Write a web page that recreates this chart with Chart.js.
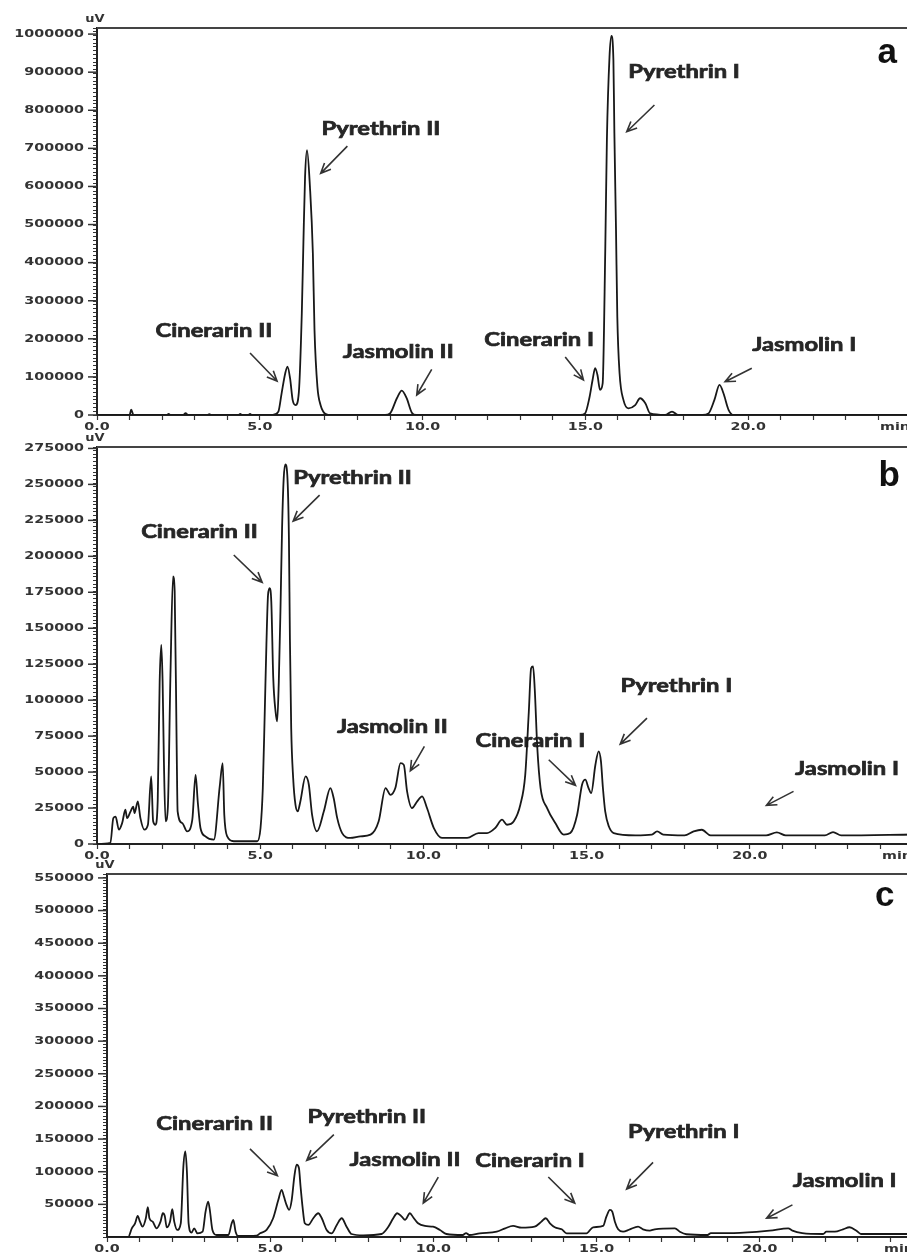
<!DOCTYPE html>
<html>
<head>
<meta charset="utf-8">
<script src="https://cdn.jsdelivr.net/npm/chart.js@4.4.1/dist/chart.umd.min.js"></script>
<style>
  html, body { margin: 0; padding: 0; background: #fff; overflow: hidden; width: 907px; height: 1253px; }
  canvas { position: absolute; left: 0; }
</style>
</head>
<body>
<canvas id="chartA" width="940" height="440" style="top:0px"></canvas>
<canvas id="chartB" width="940" height="440" style="top:430px"></canvas>
<canvas id="chartC" width="940" height="393" style="top:860px"></canvas>
<script>
// retention time (min) and detector signal (uV)

// a
const timeA = [
  0, 1.0, 1.05, 1.12, 2.15, 2.2, 2.25, 2.65, 2.72, 2.8,
  3.4, 3.45, 3.5, 4.35, 4.4, 4.45, 4.65, 4.7, 4.75, 5.4,
  5.57, 5.67, 5.78, 5.85, 5.93, 6.01, 6.1, 6.2, 6.29, 6.34,
  6.39, 6.45, 6.54, 6.63, 6.68, 6.77, 6.87, 6.95, 7.1, 8.85,
  9.0, 9.21, 9.36, 9.51, 9.67, 9.8, 14.85, 14.99, 15.12, 15.22,
  15.3, 15.37, 15.45, 15.53, 15.61, 15.66, 15.74, 15.8, 15.86, 15.89,
  15.94, 15.98, 16.05, 16.17, 16.32, 16.53, 16.68, 16.84, 16.99, 17.45,
  17.66, 17.85, 18.6, 18.78, 18.96, 19.12, 19.24, 19.4, 19.55, 25
];
const signalA = [
  0, 0, 14000, 0, 0, 3000, 0, 0, 5000, 0,
  0, 2500, 0, 0, 3000, 0, 0, 3000, 0, 0,
  8700, 57000, 109000, 127000, 96000, 39000, 26000, 60000, 267000, 455000,
  625000, 695000, 599000, 424000, 223000, 74000, 25000, 8700, 0, 0,
  4000, 44000, 64000, 44000, 6000, 0, 0, 4000, 44000, 92000,
  123000, 105000, 66000, 83000, 433000, 722000, 940000, 995000, 932000, 740000,
  486000, 258000, 109000, 39000, 17500, 26000, 44000, 31000, 4000, 0,
  9000, 0, 0, 4000, 39000, 79000, 57000, 13000, 0, 0
];

// b
const timeB = [
  0, 0.41, 0.5, 0.57, 0.67, 0.77, 0.87, 0.92, 1.03, 1.11,
  1.15, 1.25, 1.33, 1.45, 1.56, 1.66, 1.72, 1.79, 1.86, 1.92,
  1.97, 2.01, 2.05, 2.1, 2.17, 2.25, 2.33, 2.38, 2.44, 2.47,
  2.61, 2.76, 2.92, 3.02, 3.09, 3.17, 3.32, 3.58, 3.76, 3.85,
  3.9, 3.99, 4.19, 4.91, 5.01, 5.08, 5.14, 5.19, 5.24, 5.29,
  5.34, 5.4, 5.47, 5.52, 5.57, 5.62, 5.67, 5.72, 5.77, 5.83,
  5.88, 5.91, 5.95, 6.01, 6.08, 6.15, 6.23, 6.39, 6.49, 6.59,
  6.74, 6.95, 7.15, 7.25, 7.36, 7.51, 7.76, 8.07, 8.38, 8.63,
  8.84, 8.99, 9.14, 9.3, 9.4, 9.5, 9.65, 9.81, 9.96, 10.11,
  10.32, 10.57, 11.34, 11.69, 11.95, 12.2, 12.41, 12.56, 12.77, 12.97,
  13.12, 13.23, 13.3, 13.36, 13.41, 13.49, 13.59, 13.79, 14.04, 14.3,
  14.5, 14.71, 14.86, 14.96, 15.06, 15.14, 15.27, 15.37, 15.44, 15.5,
  15.57, 15.68, 15.83, 16.5, 17.0, 17.16, 17.35, 18.0, 18.28, 18.53,
  18.8, 20.5, 20.83, 21.1, 22.3, 22.55, 22.8, 25
];
const signalB = [
  0, 700, 18000, 19000, 10000, 14500, 23800, 18000, 22700, 26000,
  21500, 29600, 18000, 10000, 13400, 47000, 15800, 13400, 30000, 113000,
  138400, 113000, 57400, 15800, 25000, 117500, 186000, 175500, 69000, 22700,
  14600, 8800, 16900, 48100, 28500, 11100, 5300, 3000, 40000, 56200,
  20300, 5300, 1900, 1900, 11100, 38900, 92100, 138400, 173100, 177800,
  168500, 115300, 92100, 85200, 113000, 161600, 219400, 254200, 263900, 256500,
  212500, 143000, 80500, 45800, 27300, 22700, 29600, 47000, 41200, 20300,
  8800, 22700, 38900, 32000, 18000, 7600, 4200, 5300, 6500, 15800,
  38900, 34200, 38900, 56200, 55000, 36600, 25000, 29600, 33100, 25000,
  11100, 4200, 4200, 7600, 7600, 11100, 16900, 13400, 15800, 27300,
  48100, 92100, 122200, 123400, 108300, 66700, 38900, 25000, 14600, 6500,
  7600, 20300, 41200, 44700, 38900, 35400, 55100, 64400, 57400, 38900,
  22700, 12300, 7600, 6000, 6500, 8800, 6500, 6000, 8800, 9900,
  6000, 6000, 8100, 6000, 6000, 8300, 6000, 6600
];

// c
const timeC = [
  0, 0.55, 0.65, 0.76, 0.86, 0.94, 1.01, 1.09, 1.19, 1.25,
  1.3, 1.4, 1.52, 1.64, 1.71, 1.77, 1.83, 1.93, 2.0, 2.06,
  2.15, 2.26, 2.34, 2.4, 2.45, 2.5, 2.59, 2.67, 2.77, 2.93,
  3.02, 3.1, 3.15, 3.23, 3.36, 3.72, 3.82, 3.87, 3.94, 4.02,
  4.58, 4.69, 4.89, 5.09, 5.25, 5.35, 5.42, 5.5, 5.58, 5.66,
  5.74, 5.81, 5.88, 5.93, 5.99, 6.06, 6.17, 6.32, 6.47, 6.58,
  6.73, 6.88, 7.04, 7.19, 7.34, 7.49, 7.85, 8.41, 8.62, 8.77,
  8.89, 9.03, 9.13, 9.28, 9.38, 9.53, 9.74, 9.99, 10.2, 10.4,
  10.9, 11.0, 11.1, 11.42, 11.94, 12.2, 12.44, 12.7, 13.1, 13.31,
  13.44, 13.57, 13.72, 13.93, 14.08, 14.69, 14.89, 15.2, 15.3, 15.41,
  15.48, 15.56, 15.66, 15.81, 16.02, 16.27, 16.42, 16.63, 16.78, 17.4,
  17.55, 17.75, 18.4, 18.5, 19.2, 20.3, 20.87, 21.0, 21.3, 21.94,
  22.04, 22.3, 22.55, 22.75, 22.96, 23.1, 25
];
const signalC = [
  0, 0, 0, 13300, 21000, 32300, 23500, 15800, 28700, 45600,
  28700, 23500, 13300, 23500, 36400, 32300, 14900, 23500, 42600, 23500,
  10800, 21000, 108000, 131000, 98000, 21000, 6600, 13300, 5600, 8100,
  38900, 54300, 41500, 10800, 3100, 3100, 21000, 26200, 8100, 1500,
  2000, 5600, 10800, 28700, 56900, 72300, 62000, 49200, 41500, 56900,
  92800, 110800, 105700, 77400, 46600, 21000, 18500, 28700, 36400, 28700,
  10800, 5600, 18500, 28700, 15800, 4600, 2600, 4600, 15800, 28700,
  36400, 31200, 26200, 36400, 30300, 21000, 16900, 15800, 10800, 4600,
  3100, 6000, 3100, 5600, 8100, 13300, 16900, 14300, 15800, 23500,
  28700, 21000, 14900, 11800, 5600, 5600, 14900, 16900, 31200, 41500,
  38900, 23500, 11800, 8100, 11800, 15800, 11800, 9700, 11800, 13300,
  8100, 4200, 3100, 6000, 6000, 9700, 13300, 9700, 6000, 4600,
  8100, 8100, 11800, 14900, 9700, 4600, 4600
];

// tick labels
const yTicksA = [0, 100000, 200000, 300000, 400000, 500000, 600000, 700000, 800000, 900000, 1000000];
const yTicksB = [0, 25000, 50000, 75000, 100000, 125000, 150000, 175000, 200000, 225000, 250000, 275000];
const yTicksC = [50000, 100000, 150000, 200000, 250000, 300000, 350000, 400000, 450000, 500000, 550000];
const xTickValues = [0, 5, 10, 15, 20, 25];
const xTickLabels = ['0.0', '5.0', '10.0', '15.0', '20.0', 'min'];

// peak names
const peakNames = ['Cinerarin II', 'Pyrethrin II', 'Jasmolin II', 'Cinerarin I', 'Pyrethrin I', 'Jasmolin I'];

// where each name and its arrow sit, in axis units [text x, text y, arrow from x, y, arrow to x, y]
const notesA = [
  [3.59, 220500, 4.70, 162800, 5.53, 89250],
  [8.72, 750750, 7.69, 706000, 6.87, 634500],
  [9.25, 165400, 10.28, 120000, 9.82, 52500],
  [13.58, 196900, 14.38, 152250, 14.94, 91900],
  [18.03, 900400, 17.12, 813750, 16.27, 743700],
  [21.72, 183750, 20.11, 122600, 19.29, 87400]
];
const notesB = [
  [3.14, 216650, 4.19, 200900, 5.06, 181900],
  [7.83, 254850, 6.82, 242550, 6.01, 224500],
  [9.05, 81250, 10.03, 67850, 9.6, 50900],
  [13.28, 71500, 13.84, 58540, 14.66, 40760],
  [17.75, 109700, 16.85, 87500, 16.03, 69440],
  [22.98, 52080, 21.34, 36600, 20.51, 26870]
];
const notesC = [
  [3.3, 173850, 4.38, 134900, 5.22, 93850],
  [7.96, 184600, 6.95, 156900, 6.12, 117400],
  [9.13, 118500, 10.15, 91850, 9.69, 51850],
  [12.96, 116900, 13.52, 91850, 14.33, 51850],
  [17.67, 161500, 16.73, 114300, 15.92, 73400],
  [22.6, 86150, 21.0, 49230, 20.21, 28770]
];

const INK = '#262626';

// the scan is stretched sideways, so text is drawn wider than the font
function wideText(ctx, text, x, y, align, sx, thick) {
  ctx.save();
  ctx.translate(x, y);
  ctx.scale(sx, 1);
  ctx.textAlign = align;
  ctx.fillText(text, 0, 0);
  if (thick) {
    ctx.lineWidth = thick;
    ctx.strokeStyle = ctx.fillStyle;
    ctx.strokeText(text, 0, 0);
  }
  ctx.restore();
}

function arrow(ctx, x1, y1, x2, y2) {
  const a = Math.atan2(y2 - y1, x2 - x1);
  const h = 11;
  ctx.beginPath();
  ctx.moveTo(x1, y1);
  ctx.lineTo(x2, y2);
  ctx.moveTo(x2 - h * Math.cos(a - 0.42), y2 - h * Math.sin(a - 0.42));
  ctx.lineTo(x2, y2);
  ctx.lineTo(x2 - h * Math.cos(a + 0.42), y2 - h * Math.sin(a + 0.42));
  ctx.stroke();
}

function makeDecor(cfg) {
  return {
    id: 'decor' + cfg.letter,
    beforeDatasetsDraw(chart) {
      const { ctx, scales: { x, y } } = chart;
      ctx.save();
      ctx.fillStyle = INK;
      ctx.strokeStyle = '#333';
      ctx.lineWidth = 1.6;
      ctx.font = 'bold 19px Lato';
      ctx.textBaseline = 'middle';
      cfg.notes.forEach((n, i) => {
        wideText(ctx, peakNames[i], x.getPixelForValue(n[0]), y.getPixelForValue(n[1]), 'center', 1.25, 0.7);
        arrow(ctx, x.getPixelForValue(n[2]), y.getPixelForValue(n[3]),
                   x.getPixelForValue(n[4]), y.getPixelForValue(n[5]));
      });
      ctx.restore();
    },
    afterDraw(chart) {
      const { ctx, chartArea: area, scales: { x, y } } = chart;
      ctx.save();
      // top frame line
      ctx.strokeStyle = '#444';
      ctx.lineWidth = 2;
      ctx.beginPath();
      ctx.moveTo(area.left, area.top);
      ctx.lineTo(chart.width, area.top);
      ctx.stroke();

      ctx.strokeStyle = '#333';
      ctx.fillStyle = '#333';
      ctx.lineWidth = 1.5;
      ctx.font = 'bold 11px "DejaVu Sans"';
      ctx.textBaseline = 'middle';
      cfg.yTicks.forEach(v => {
        const py = y.getPixelForValue(v);
        ctx.beginPath();
        ctx.moveTo(area.left - 9, py);
        ctx.lineTo(area.left, py);
        ctx.stroke();
        wideText(ctx, String(v), area.left - 13, py, 'right', 1.3);
      });
      xTickValues.forEach((v, i) => {
        const px = x.getPixelForValue(v);
        if (xTickLabels[i] === 'min') {
          // the unit sits at the cut-off right edge of the scan
          wideText(ctx, xTickLabels[i], Math.min(px - 31, 884), area.bottom + 12, 'left', 1.3);
        } else {
          wideText(ctx, xTickLabels[i], px, area.bottom + 12, 'center', 1.3);
        }
      });
      ctx.font = 'bold 10px "DejaVu Sans"';
      wideText(ctx, 'uV', area.left - 2, area.top - 9, 'center', 1.3);

      ctx.fillStyle = '#111';
      ctx.font = 'bold 35px "Liberation Sans"';
      wideText(ctx, cfg.letter, x.getPixelForValue(cfg.letterAt[0]), y.getPixelForValue(cfg.letterAt[1]), 'center', 1);
      ctx.restore();
    }
  };
}

function makeChart(id, times, signal, cfg) {
  const points = times.map((t, i) => ({ x: t, y: signal[i] }));
  return new Chart(document.getElementById(id), {
    type: 'line',
    data: {
      datasets: [{
        data: points,
        borderColor: '#181818',
        borderWidth: 1.8,
        pointRadius: 0,
        fill: false,
        cubicInterpolationMode: 'monotone'
      }]
    },
    options: {
      responsive: false,
      animation: false,
      events: [],
      layout: { padding: cfg.padding },
      plugins: { legend: { display: false }, tooltip: { enabled: false } },
      scales: {
        x: {
          type: 'linear', min: 0, max: 25,
          afterFit: s => { s.height = cfg.xHeight; },
          ticks: { display: false, stepSize: 1, autoSkip: false },
          grid: { drawOnChartArea: false, tickLength: 5, color: '#333', tickWidth: 1.2 },
          border: { display: true, color: '#222', width: 2 }
        },
        y: {
          type: 'linear', min: 0, max: cfg.yMax,
          afterFit: s => { s.width = cfg.yWidth; },
          ticks: { display: false, stepSize: cfg.yMinor, autoSkip: false, includeBounds: false },
          grid: { drawOnChartArea: false, tickLength: 4, color: '#333', tickWidth: 1 },
          border: { display: true, color: '#222', width: 2 }
        }
      }
    },
    plugins: [makeDecor(cfg)]
  });
}

makeChart('chartA', timeA, signalA, {
  letter: 'a', letterAt: [24.27, 950250], notes: notesA, yTicks: yTicksA,
  yMax: 1016000, yMinor: 10000, yWidth: 97, xHeight: 25,
  padding: { left: 0, top: 28, right: 29, bottom: 0 }
});
makeChart('chartB', timeB, signalB, {
  letter: 'b', letterAt: [24.27, 255540], notes: notesB, yTicks: yTicksB,
  yMax: 276000, yMinor: 2500, yWidth: 97, xHeight: 26,
  padding: { left: 0, top: 17, right: 27, bottom: 0 }
});
makeChart('chartC', timeC, signalC, {
  letter: 'c', letterAt: [23.83, 521550], notes: notesC, yTicks: yTicksC,
  yMax: 556000, yMinor: 5000, yWidth: 107, xHeight: 16,
  padding: { left: 0, top: 14, right: 17, bottom: 0 }
});
</script>
</body>
</html>
